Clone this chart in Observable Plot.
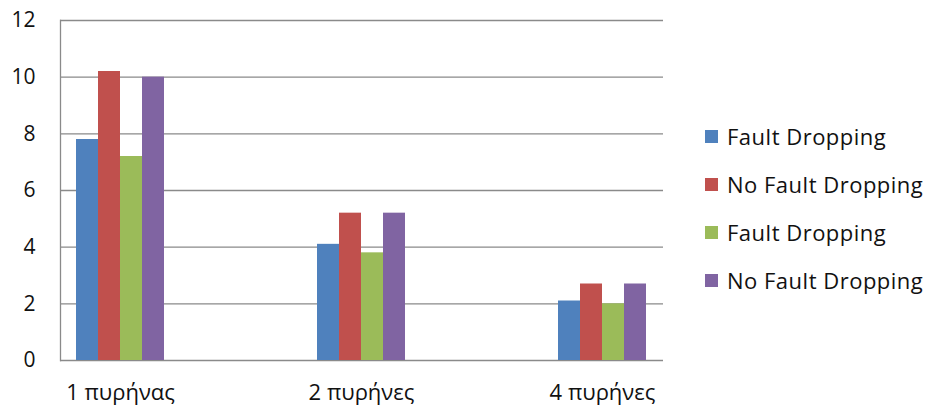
<!DOCTYPE html>
<html>
<head>
<meta charset="utf-8">
<script src="https://cdn.jsdelivr.net/npm/d3@7"></script>
<script src="https://cdn.jsdelivr.net/npm/@observablehq/plot@0.6"></script>
<style>
  html, body { margin: 0; padding: 0; background: #fff; }
  #chart { position: relative; width: 931px; height: 410px; font-family: "Open Sans", sans-serif; }
  #chart svg { position: absolute; left: 0; top: 0; }
  #chart svg g[aria-label="x-axis tick label"] text { letter-spacing: 0.6px; }
  #legend { position: absolute; left: 705px; top: 112px; }
  .item { display: flex; align-items: center; height: 48px; font-size: 22px; letter-spacing: 0.5px; color: #111; white-space: nowrap; }
  .swatch { width: 13px; height: 13px; margin-right: 9px; flex: none; }
</style>
</head>
<body>
<div id="chart"></div>
<script>
// Core counts on the x axis
const categories = ["1 πυρήνας", "2 πυρήνες", "4 πυρήνες"];

// Four runs, legend names as labelled
const seriesNames = ["Fault Dropping", "No Fault Dropping", "Fault Dropping", "No Fault Dropping"];
const seriesColors = ["#4F81BD", "#C0504D", "#9BBB59", "#8064A2"];

// Values per core count, one array per run
const run1 = [7.8, 4.1, 2.1];
const run2 = [10.2, 5.2, 2.7];
const run3 = [7.2, 3.8, 2.0];
const run4 = [10.0, 5.2, 2.7];

const yTicks = [0, 2, 4, 6, 8, 10, 12];

const runs = [run1, run2, run3, run4];
const nRuns = runs.length;
const barWidth = 22;
const gridColor = "#8a8a8a";

// One bar mark per run, each placed in its slot of the category band
const barMarks = runs.map((values, i) =>
  Plot.barY(
    categories.map((c, j) => ({category: c, value: values[j]})),
    {
      x: "category",
      y: "value",
      fill: seriesColors[i],
      insetLeft: barWidth * i,
      insetRight: barWidth * (nRuns - 1 - i)
    }
  )
);

const chart = Plot.plot({
  width: 680,
  height: 410,
  marginLeft: 60,
  marginRight: 17,
  marginTop: 20,
  marginBottom: 50,
  style: {fontFamily: "Open Sans, sans-serif", fontSize: "21px", color: "#111", background: "#fff"},
  x: {
    domain: categories,
    range: [-1.75, 722.75],
    paddingInner: 1 - (barWidth * nRuns) / 241.5,
    paddingOuter: (1 - (barWidth * nRuns) / 241.5) / 2,
    axis: null
  },
  y: {domain: [0, 12], axis: null},
  marks: [
    Plot.ruleY(yTicks, {stroke: gridColor, strokeWidth: 1.3}),
    Plot.frame({anchor: "left", stroke: gridColor, strokeWidth: 1.3}),
    ...barMarks,
    Plot.axisY({ticks: yTicks, tickSize: 0, tickPadding: 25, tickFormat: d => String(d), label: null}),
    Plot.axisX({tickSize: 0, tickPadding: 24, fontSize: 22, label: null, ariaLabel: "x-axis tick label"})
  ]
});

const root = document.getElementById("chart");
root.appendChild(chart);

// Legend on the right, built from the run names and colours
const legend = d3.select(root).append("div").attr("id", "legend");
const items = legend.selectAll(".item")
  .data(seriesNames.map((name, i) => ({name, color: seriesColors[i]})))
  .join("div")
  .attr("class", "item");
items.append("span").attr("class", "swatch").style("background", d => d.color);
items.append("span").text(d => d.name);
</script>
</body>
</html>
